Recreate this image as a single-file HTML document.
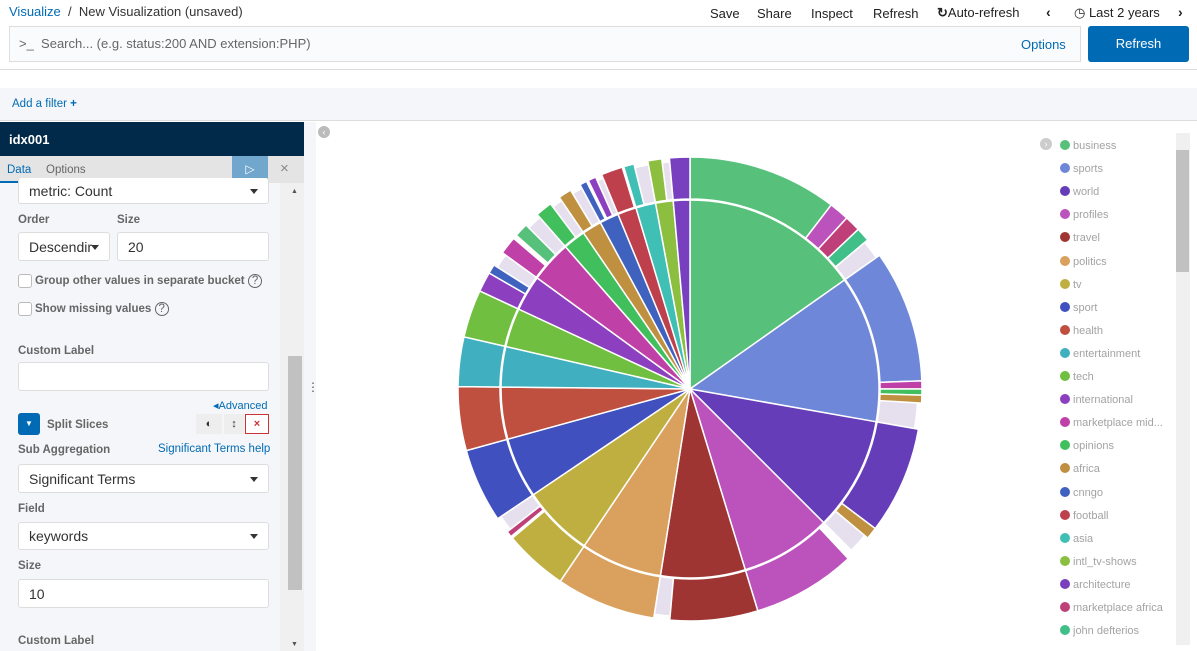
<!DOCTYPE html>
<html><head><meta charset="utf-8"><style>
*{box-sizing:border-box;margin:0;padding:0}
body{width:1197px;height:651px;overflow:hidden;background:#fff;font-family:"Liberation Sans",sans-serif;position:relative;color:#333}
.a{position:absolute}
.lbl{position:absolute;font-size:11.5px;font-weight:bold;color:#666}
.inp{position:absolute;background:#fff;border:1px solid #ddd;border-radius:3px;font-size:14px;color:#333;padding-left:10px;display:flex;align-items:center}
.caret{position:absolute;right:10px;top:50%;margin-top:-2px;width:0;height:0;border-left:4px solid transparent;border-right:4px solid transparent;border-top:5px solid #333}
.lg{position:absolute;left:1060px;font-size:11px;color:#a3a3a3;white-space:nowrap}
.lg i{display:inline-block;width:10px;height:10px;border-radius:50%;vertical-align:-1px;margin-right:3px}
</style></head><body>
<div class="a" style="left:9px;top:4px;font-size:13px"><span style="color:#006bb4">Visualize</span> <span style="color:#333">&nbsp;/&nbsp; New Visualization (unsaved)</span></div>
<div class="a" style="left:710px;top:6px;font-size:13px;color:#222;word-spacing:0">Save</div>
<div class="a" style="left:757px;top:6px;font-size:13px;color:#222">Share</div>
<div class="a" style="left:811px;top:6px;font-size:13px;color:#222">Inspect</div>
<div class="a" style="left:873px;top:6px;font-size:13px;color:#222">Refresh</div>
<div class="a" style="left:937px;top:5px;font-size:13px;color:#222"><b>↻</b>Auto-refresh</div>
<div class="a" style="left:1046px;top:4px;font-size:14px;color:#222;font-weight:bold">‹</div>
<div class="a" style="left:1074px;top:5px;font-size:13px;color:#222">◷ Last 2 years</div>
<div class="a" style="left:1178px;top:4px;font-size:14px;color:#222;font-weight:bold">›</div>
<div class="a" style="left:9px;top:26px;width:1072px;height:36px;background:#fafbfd;border:1px solid #ddd"></div>
<div class="a" style="left:19px;top:36px;font-size:13px;color:#666">&gt;_ &nbsp;Search... (e.g. status:200 AND extension:PHP)</div>
<div class="a" style="left:1021px;top:37px;font-size:13px;color:#006bb4">Options</div>
<div class="a" style="left:1088px;top:26px;width:101px;height:36px;background:#006bb4;border-radius:3px;color:#fff;font-size:13px;text-align:center;line-height:36px">Refresh</div>
<div class="a" style="left:0;top:69px;width:1197px;height:1px;background:#ddd"></div>
<div class="a" style="left:0;top:88px;width:1197px;height:33px;background:#f5f6f9;border-bottom:1px solid #ddd"></div>
<div class="a" style="left:12px;top:98px;font-size:11.5px;color:#006bb4">Add a filter <b>+</b></div>
<div class="a" style="left:0;top:122px;width:304px;height:34px;background:#012a4a"></div>
<div class="a" style="left:9px;top:132px;font-size:13px;color:#fff;font-weight:bold">idx001</div>
<div class="a" style="left:0;top:156px;width:304px;height:27px;background:#e4e4e4"></div>
<div class="a" style="left:7px;top:164px;font-size:11.5px;color:#006bb4">Data</div>
<div class="a" style="left:0;top:181px;width:37px;height:2px;background:#006bb4"></div>
<div class="a" style="left:46px;top:164px;font-size:11.5px;color:#666">Options</div>
<div class="a" style="left:232px;top:156px;width:36px;height:27px;background:#71a6cd;color:#fff;text-align:center;line-height:27px;font-size:12px">▷</div>
<div class="a" style="left:280px;top:160px;font-size:15px;color:#888">×</div>
<div class="a" style="left:0;top:183px;width:304px;height:468px;background:#f5f6f9"></div>
<div class="a" style="left:280px;top:183px;width:24px;height:468px;background:#f0f0f0"></div>
<div class="a" style="left:288px;top:356px;width:14px;height:234px;background:#c1c1c1"></div>
<div class="a" style="left:291px;top:188px;font-size:7px;color:#555">▲</div>
<div class="a" style="left:291px;top:641px;font-size:7px;color:#555">▼</div>
<div class="a" style="left:304px;top:122px;width:12px;height:529px;background:#f5f6f9"></div>
<div class="a" style="left:307px;top:380px;font-size:12px;color:#555">⋮</div>
<div class="inp" style="left:18px;top:178px;width:251px;height:26px;border-top:none">metric: Count<span class="caret"></span></div>
<div class="lbl" style="left:18px;top:214px">Order</div><div class="lbl" style="left:117px;top:214px">Size</div>
<div class="inp" style="left:18px;top:232px;width:92px;height:29px">Descendir<span class="caret"></span></div>
<div class="inp" style="left:117px;top:232px;width:152px;height:29px">20</div>
<div class="a" style="left:18px;top:274px;width:14px;height:14px;border:1px solid #bbb;border-radius:3px;background:#fff"></div>
<div class="lbl" style="left:35px;top:275px">Group other values in separate bucket <span style="font-weight:normal;border:1px solid #666;border-radius:50%;padding:0 3px">?</span></div>
<div class="a" style="left:18px;top:302px;width:14px;height:14px;border:1px solid #bbb;border-radius:3px;background:#fff"></div>
<div class="lbl" style="left:35px;top:303px">Show missing values <span style="font-weight:normal;border:1px solid #666;border-radius:50%;padding:0 3px">?</span></div>
<div class="lbl" style="left:18px;top:345px">Custom Label</div>
<div class="inp" style="left:18px;top:362px;width:251px;height:29px"></div>
<div class="a" style="left:213px;top:399px;font-size:11px;color:#006bb4">◂Advanced</div>
<div class="a" style="left:18px;top:413px;width:22px;height:22px;background:#006bb4;border-radius:3px;color:#fff;font-size:8px;text-align:center;line-height:22px">▼</div>
<div class="lbl" style="left:47px;top:419px">Split Slices</div>
<div class="a" style="left:196px;top:414px;width:26px;height:20px;background:#eee;font-size:11px;text-align:center;line-height:20px">◐</div>
<div class="a" style="left:224px;top:414px;width:20px;height:20px;background:#eee;font-size:11px;text-align:center;line-height:20px">↕</div>
<div class="a" style="left:245px;top:414px;width:24px;height:20px;border:1px solid #c33;background:#fff;color:#c33;font-size:11px;text-align:center;line-height:18px;font-weight:bold">×</div>
<div class="lbl" style="left:18px;top:444px">Sub Aggregation</div>
<div class="a" style="left:158px;top:443px;font-size:11.5px;color:#006bb4">Significant Terms help</div>
<div class="inp" style="left:18px;top:464px;width:251px;height:29px">Significant Terms<span class="caret"></span></div>
<div class="lbl" style="left:18px;top:503px">Field</div>
<div class="inp" style="left:18px;top:522px;width:251px;height:28px">keywords<span class="caret"></span></div>
<div class="lbl" style="left:18px;top:560px">Size</div>
<div class="inp" style="left:18px;top:579px;width:251px;height:29px">10</div>
<div class="lbl" style="left:18px;top:635px">Custom Label</div>
<div class="a" style="left:318px;top:126px;width:12px;height:12px;border-radius:50%;background:#bbb;color:#fff;font-size:9px;text-align:center;line-height:12px">‹</div>
<div class="a" style="left:1040px;top:138px;width:12px;height:12px;border-radius:50%;background:#ccc;color:#fff;font-size:9px;text-align:center;line-height:12px">›</div>
<div class="a" style="left:1176px;top:133px;width:14px;height:512px;background:#f0f0f0"></div>
<div class="a" style="left:1176px;top:150px;width:13px;height:122px;background:#c1c1c1"></div>
<svg class="a" style="left:0;top:0" width="1197" height="651" id="s"></svg>
<div id="lg"></div>
<script>
var C={business:'#57c17b',sports:'#6f87d8',world:'#663db8',profiles:'#bc52bc',travel:'#9e3533',politics:'#daa05d',tv:'#bfaf40',sport:'#4050bf',health:'#bf5040',entertainment:'#40afbf',tech:'#70bf40',international:'#8c3fbf',mm:'#bf40a7',opinions:'#40bf5c',africa:'#bf9040',cnngo:'#4062bf',football:'#bf404d',asia:'#40bfb5',intl:'#8cbf40',architecture:'#7840bf',ma:'#bf4079',jd:'#40bf88'};
var names=[['business','business'],['sports','sports'],['world','world'],['profiles','profiles'],['travel','travel'],['politics','politics'],['tv','tv'],['sport','sport'],['health','health'],['entertainment','entertainment'],['tech','tech'],['international','international'],['mm','marketplace mid...'],['opinions','opinions'],['africa','africa'],['cnngo','cnngo'],['football','football'],['asia','asia'],['intl','intl_tv-shows'],['architecture','architecture'],['ma','marketplace africa'],['jd','john defterios']];
var h='';names.forEach(function(n,i){h+='<div class="lg" style="top:'+(140+23.1*i)+'px"><i style="background:'+C[n[0]]+'"></i>'+n[1]+'</div>'});
document.getElementById('lg').innerHTML=h;
var cx=690,cy=389,R1=189,R2=232;
function p(a,r){a=a*Math.PI/180;return [cx+r*Math.sin(a),cy-r*Math.cos(a)]}
function arc(a0,a1,r0,r1,c){var l=(a1-a0)>180?1:0;var A=p(a0,r1),B=p(a1,r1);var d='M'+A+' A'+r1+','+r1+' 0 '+l+' 1 '+B;
if(r0==0)d+=' L'+cx+','+cy+'Z';else{var D=p(a1,r0),E=p(a0,r0);d+=' L'+D+' A'+r0+','+r0+' 0 '+l+' 0 '+E+'Z'}
return '<path d="'+d+'" fill="'+c+'" stroke="#fff" stroke-width="1.5"/>'}
var inner=[['business',0,54.8],['sports',54.8,100],['world',100,135],['profiles',135,163],['travel',163,189],['politics',189,214],['tv',214,236],['sport',236,254.6],['health',254.6,270.6],['entertainment',270.6,283],['tech',283,295],['international',295,306],['mm',306,318.8],['opinions',318.8,325.7],['africa',325.7,331.7],['cnngo',331.7,337.6],['football',337.6,343.4],['asia',343.4,349.5],['intl',349.5,354.9],['architecture',354.9,360]];
var outer=[['business',0,37.5],['profiles',37.5,42.5],['ma',42.5,46.5],['jd',46.5,50],['sports',54.8,88],['mm',88,90],['opinions',90,91.5],['africa',91.5,93.5],['world',100,127],['africa',127,130],['profiles',137,163],['travel',163,185],['politics',189,214],['tv',214,230],['ma',230.5,232],['sport',236,254.6],['health',254.6,270.6],['entertainment',270.6,283],['tech',283,295],['international',295,300],['cnngo',300,302.3],['mm',306,310.5],['business',311.5,315],['opinions',318.8,323],['africa',325.7,329],['cnngo',331.7,333.5],['international',334,336],['football',337.6,343],['asia',343.4,346],['intl',349.5,353],['architecture',354.9,360]];
var gaps=[[50,54.8],[93.5,100],[130,135],[185,189],[232,236],[302.3,306],[315,318.8],[323,325.7],[329,331.7],[336,337.6],[346,349.5],[353,354.9]];
var s='';inner.forEach(function(x){s+=arc(x[1],x[2],0,R1,C[x[0]])});
gaps.forEach(function(g){s+=arc(g[0],g[1],R1+1,R2-4,'#e6e0ee')});
outer.forEach(function(x){s+=arc(x[1],x[2],R1+1,R2,C[x[0]])});
document.getElementById('s').innerHTML=s;
</script>
</body></html>
